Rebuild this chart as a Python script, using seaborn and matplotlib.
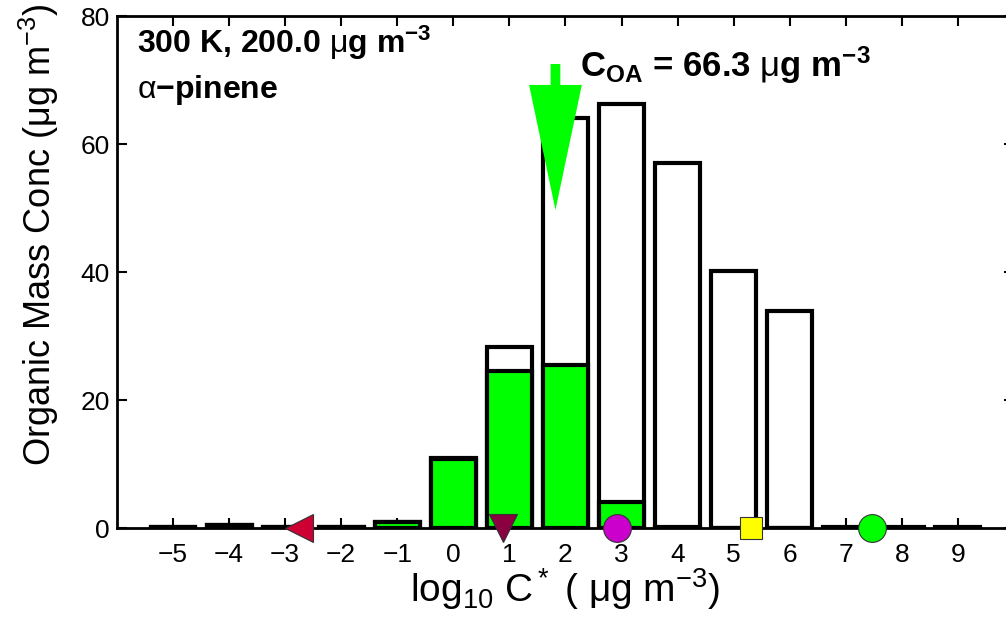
import matplotlib
matplotlib.use("Agg")
import matplotlib.pyplot as plt
import seaborn as sns
import pandas as pd
import numpy as np

# --- Data ---
log_cstar = [-5, -4, -3, -2, -1, 0, 1, 2, 3, 4, 5, 6, 7, 8, 9]
total_mass = [0.2, 0.4, 0.2, 0.2, 1.0, 10.9, 28.3, 64.0, 66.2, 57.0, 40.2, 33.9, 0.1, 0.1, 0.1]
condensed_mass = [0.2, 0.4, 0.2, 0.2, 1.0, 10.8, 24.5, 25.5, 4.0, 0.2, 0.0, 0.0, 0.0, 0.0, 0.0]

marker_x = [-2.75, 0.88, 2.92, 5.31, 7.46]
marker_shape = ["<", "v", "o", "s", "o"]
marker_color = ["#CC0033", "#8B0040", "#CC00CC", "#FFFF00", "#00FF00"]
marker_size = [20, 20, 20, 16, 20]

coa = 66.3
arrow_top = 72.5
arrow_tip = 49.7

df = pd.DataFrame({"logC": log_cstar, "total": total_mass, "cond": condensed_mass})

# --- Style ---
sns.set_style("white")
plt.rcParams["font.family"] = ["Liberation Sans", "DejaVu Sans"]
plt.rcParams["mathtext.fontset"] = "custom"
plt.rcParams["mathtext.rm"] = "Liberation Sans"
plt.rcParams["mathtext.bf"] = "Liberation Sans:bold"
plt.rcParams["mathtext.it"] = "Liberation Sans:italic"
for k in ["text.color", "axes.labelcolor", "xtick.color", "ytick.color", "axes.edgecolor"]:
    plt.rcParams[k] = "black"

fig = plt.figure(figsize=(10.06, 6.26), dpi=100)
ax = fig.add_axes([0.1163, 0.1565, 0.8916, 0.8179])

# total (white) bars, condensed (green) part drawn over them
sns.barplot(data=df, x="logC", y="total", native_scale=True, width=0.8,
            color="white", saturation=1, edgecolor="black", linewidth=3,
            ax=ax, zorder=2)
sns.barplot(data=df, x="logC", y="cond", native_scale=True, width=0.8,
            color="#00FF00", saturation=1, edgecolor="black", linewidth=3,
            ax=ax, zorder=3)

for xm, mk, col, ms in zip(marker_x, marker_shape, marker_color, marker_size):
    ax.plot([xm], [0], marker=mk, color=col, markersize=ms,
            markeredgecolor="#333333", markeredgewidth=0.8,
            linestyle="none", clip_on=False, zorder=10)

# arrow at log10(C_OA)
ax.annotate("", xy=(np.log10(coa), arrow_tip), xytext=(np.log10(coa), arrow_top),
            arrowprops=dict(facecolor="#00FF00", edgecolor="none", width=7,
                            headwidth=38, headlength=90, shrink=0),
            zorder=12)

ax.set_xlim(-6, 10)
ax.set_ylim(0, 80)
ax.set_xticks(range(-5, 10))
ax.set_xticklabels([str(v).replace("-", "\u2212") for v in range(-5, 10)])
ax.set_yticks([0, 20, 40, 60, 80])
ax.xaxis.set_ticks_position("both")
ax.yaxis.set_ticks_position("both")
ax.tick_params(which="major", direction="in", length=7, width=1.5,
               top=True, right=True, bottom=True, left=True,
               labelsize=19, color="black", labelcolor="black")
ax.tick_params(axis="x", pad=11)
ax.tick_params(axis="y", pad=5)
for s in ax.spines.values():
    s.set_linewidth(2)
    s.set_color("black")

ax.set_xlabel(r"log$_{10}$ C$^*$ ( μg m$^{-3}$)", fontsize=28)
ax.xaxis.set_label_coords(0.5, -0.074)
ax.set_ylabel(r"Organic Mass Conc (μg m$^{-3}$)", fontsize=26)
ax.yaxis.set_label_coords(-0.062, 0.572)

ax.text(0.022, 0.928, r"300 K, 200.0 $\mathrm{\mu}$g m$^{\mathbf{-3}}$", transform=ax.transAxes,
        fontsize=23, fontweight="bold", va="baseline", ha="left")
ax.text(0.022, 0.840, r"$\mathrm{\alpha}$" + "\u2212pinene",
        transform=ax.transAxes, fontsize=23, fontweight="bold",
        va="baseline", ha="left")
ax.text(0.516, 0.881, r"$\mathbf{C_{OA}}$ = 66.3 $\mathrm{\mu}$g m$^{\mathbf{-3}}$",
        transform=ax.transAxes, fontsize=25, fontweight="bold",
        va="baseline", ha="left")

fig.savefig("out.png", dpi=100)
